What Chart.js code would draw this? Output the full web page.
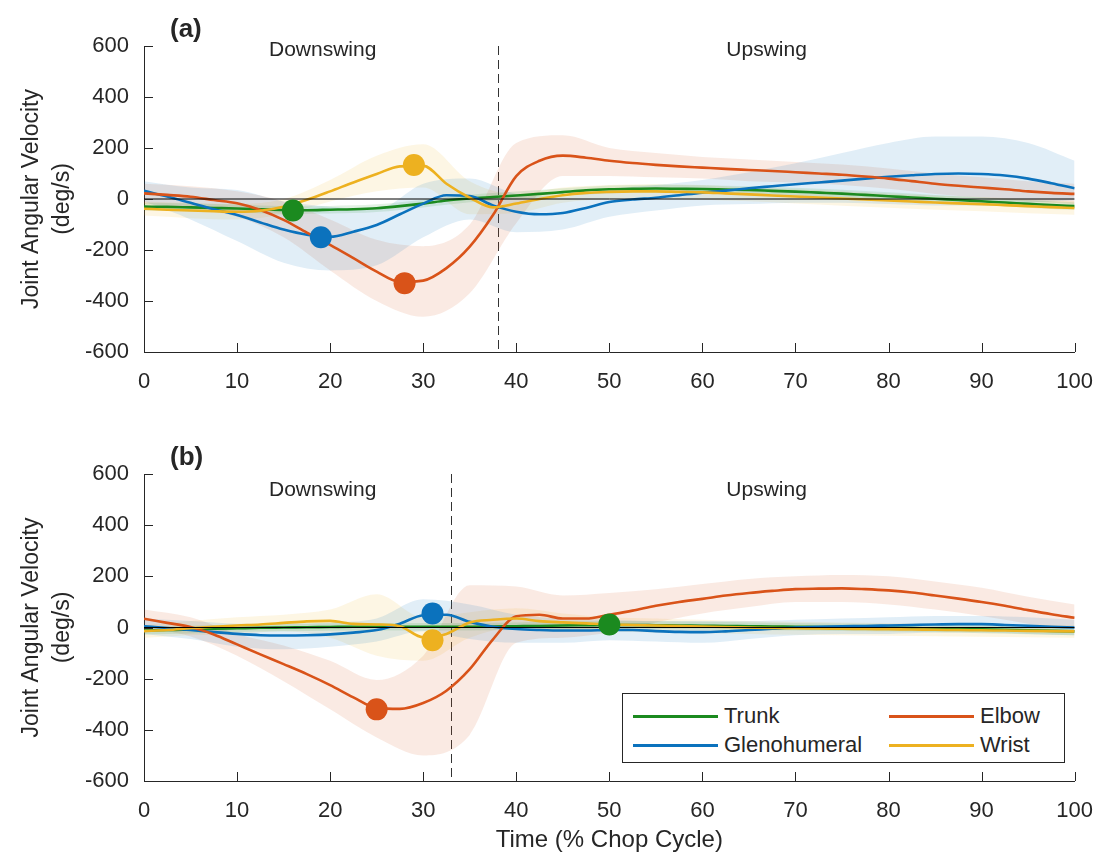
<!DOCTYPE html>
<html>
<head>
<meta charset="utf-8">
<script src="https://cdn.jsdelivr.net/npm/chart.js@4.4.1/dist/chart.umd.min.js"></script>
<style>
  html, body { margin: 0; padding: 0; background: #fff; }
  #wrap { position: relative; width: 1102px; height: 860px; font-family: "Liberation Sans", Arial, sans-serif; color: #262626; }
  #chartA { position: absolute; left: 0; top: 0; }
  #chartB { position: absolute; left: 0; top: 410px; }
  #legend { position: absolute; left: 622px; top: 693px; width: 441px; height: 68px; border: 1px solid #262626; background: #fff; }
  .item { position: absolute; font-size: 22px; line-height: 26px; white-space: nowrap; }
  .swatch { position: absolute; width: 85px; height: 3px; }
</style>
</head>
<body>
<div id="wrap">
  <canvas id="chartA" width="1102" height="400"></canvas>
  <canvas id="chartB" width="1102" height="450"></canvas>
  <div id="legend"></div>
</div>
<script>
// tiempo (% del ciclo) para las medias y para las bandas
const tiempo = [0,2.5,5,7.5,10,12.5,15,17.5,20,22.5,25,27.5,30,32.5,35,37.5,40,42.5,45,47.5,50,52.5,55,57.5,60,62.5,65,67.5,70,72.5,75,77.5,80,82.5,85,87.5,90,92.5,95,97.5,100];
const tiempoBanda = [0,5,10,15,20,25,30,35,40,45,50,55,60,65,70,75,80,85,90,95,100];

const series = ['Trunk', 'Glenohumeral', 'Elbow', 'Wrist'];
const colores = ['#1b8a1f', '#0b72bd', '#d95319', '#edb120'];

// panel (a)
const trunkA = [-30,-31,-33,-35,-37,-40,-43,-44,-42,-40,-36,-28,-18,-6,2,8,14,20,27,34,38,40,41,40,39,37,35,32,29,25,21,16,11,6,1,-4,-9,-14,-19,-24,-28];
const glenoA = [32,10,-15,-40,-63,-92,-120,-140,-148,-128,-102,-60,-18,15,12,-25,-50,-60,-55,-35,-12,-2,5,15,25,33,42,50,58,65,72,80,87,93,98,100,98,92,80,62,42];
const elbowA = [22,16,9,-4,-17,-43,-82,-132,-180,-232,-285,-325,-320,-271,-187,-63,90,150,170,162,150,141,134,128,123,118,114,110,105,100,95,88,80,70,60,52,45,38,30,24,20];
const wristA = [-38,-42,-45,-48,-50,-46,-30,-3,30,65,98,128,130,60,5,-33,-18,0,15,24,28,30,30,28,26,22,18,14,10,6,2,-2,-6,-10,-14,-17,-20,-24,-28,-32,-35];

const trunkA_hi = [-15,-18,-22,-28,-27,-21,-3,17,29,42,53,56,54,50,44,36,26,16,6,-4,-13];
const trunkA_lo = [-45,-48,-52,-58,-57,-51,-33,-13,-1,12,23,26,24,20,14,6,-4,-14,-24,-34,-43];
const glenoA_hi = [70,45,35,-10,-30,-40,60,80,20,10,40,55,75,105,140,180,220,245,245,220,150];
const glenoA_lo = [-10,-80,-165,-250,-280,-260,-150,-80,-130,-120,-70,-45,-25,-20,-15,-15,-20,-25,-25,-15,-5];
const elbowA_hi = [60,50,30,-10,-80,-160,-185,-100,220,250,200,180,165,155,145,135,120,100,85,70,60];
const elbowA_lo = [-20,-35,-70,-150,-280,-400,-462,-370,-95,90,90,85,80,70,65,55,40,20,5,-10,-20];
const wristA_hi = [-10,-15,-20,0,75,170,215,70,20,45,55,58,55,45,38,30,22,14,8,0,-8];
const wristA_lo = [-65,-75,-80,-60,-10,30,45,-60,-55,-15,0,2,-3,-9,-18,-26,-34,-42,-48,-56,-62];

const picoTiempoA = [16, 19, 28, 29];
const picoValorA = [-45, -150, -330, 133];

// panel (b)
const trunkB = [-12,-10,-8,-5,-3,-1,0,1,2,3,3,3,3,3,3,4,5,6,8,9,10,10,9,8,7,6,5,4,3,2,1,0,-1,-2,-4,-5,-7,-9,-11,-13,-15];
const glenoB = [5,-2,-10,-18,-25,-30,-31,-30,-27,-20,-10,15,48,50,22,3,-6,-10,-12,-12,-10,-10,-14,-17,-18,-15,-10,-5,0,3,5,6,8,10,12,13,13,10,7,3,0];
const elbowB = [34,18,2,-27,-66,-105,-143,-182,-225,-273,-315,-318,-295,-247,-163,-46,44,50,35,35,50,66,85,100,112,125,135,143,150,152,153,150,145,137,125,113,100,85,68,52,38];
const wristB = [-14,-10,-3,3,8,12,18,24,26,14,12,5,-38,-25,20,30,35,25,20,16,12,10,8,6,4,2,0,-2,-3,-4,-5,-6,-7,-8,-9,-10,-11,-12,-13,-14,-15];

const trunkB_hi = [3,7,12,15,17,18,18,18,20,23,25,24,22,20,18,16,14,11,8,4,0];
const trunkB_lo = [-27,-23,-18,-15,-13,-12,-12,-12,-10,-7,-5,-6,-8,-10,-12,-14,-16,-19,-22,-26,-30];
const glenoB_hi = [35,25,15,15,20,35,110,90,50,35,30,25,25,25,30,35,40,45,45,40,30];
const glenoB_lo = [-25,-45,-75,-85,-75,-55,-15,-45,-60,-60,-50,-55,-60,-45,-30,-25,-25,-20,-20,-25,-30];
const elbowB_hi = [70,40,-25,-70,-130,-205,-110,165,160,125,135,150,170,190,200,205,200,180,155,120,90];
const elbowB_lo = [0,-35,-110,-210,-320,-430,-500,-420,-60,-40,-20,20,55,80,100,100,90,70,45,15,-10];
const wristB_hi = [10,25,40,50,70,130,40,60,75,55,40,35,30,25,22,20,18,16,14,12,10];
const wristB_lo = [-40,-30,-25,-15,-40,-110,-130,-40,0,-10,-15,-20,-22,-25,-28,-30,-32,-34,-36,-38,-40];

const picoTiempoB = [50, 31, 25, 31];
const picoValorB = [12, 55, -320, -50];

const yTicks = [-600, -400, -200, 0, 200, 400, 600];

Chart.defaults.font.family = '"Liberation Sans", Arial, sans-serif';
Chart.defaults.color = '#262626';

function rgba(hex, a) {
    const n = parseInt(hex.slice(1), 16);
    return `rgba(${n >> 16}, ${(n >> 8) & 255}, ${n & 255}, ${a})`;
}

function puntos(xs, ys) {
    return xs.map((x, i) => ({ x: x, y: ys[i] }));
}

// linea de fase, ticks hacia adentro y textos
const decorPlugin = {
    id: 'decor',
    beforeDatasetsDraw(chart, args, o) {
        const { ctx, chartArea: a, scales: { x } } = chart;
        ctx.save();
        ctx.lineWidth = 1;
        const xf = Math.round(x.getPixelForValue(o.fase)) + 0.5;
        ctx.strokeStyle = '#333';
        ctx.setLineDash([9, 5]);
        ctx.beginPath(); ctx.moveTo(xf, a.top); ctx.lineTo(xf, a.bottom); ctx.stroke();
        ctx.restore();
    },
    afterDraw(chart, args, o) {
        const { ctx, chartArea: a, scales: { x, y } } = chart;
        ctx.save();
        ctx.strokeStyle = '#262626';
        ctx.lineWidth = 1;
        y.ticks.forEach(t => {
            const py = Math.round(y.getPixelForValue(t.value)) + 0.5;
            ctx.beginPath(); ctx.moveTo(a.left, py); ctx.lineTo(a.left + 9, py); ctx.stroke();
        });
        x.ticks.forEach(t => {
            const px = Math.round(x.getPixelForValue(t.value)) + 0.5;
            ctx.beginPath(); ctx.moveTo(px, a.bottom); ctx.lineTo(px, a.bottom - 9); ctx.stroke();
        });
        ctx.fillStyle = '#262626';
        ctx.textBaseline = 'middle';
        ctx.textAlign = 'center';
        ctx.font = '21px "Liberation Sans", Arial, sans-serif';
        ctx.fillText('Downswing', x.getPixelForValue(19.2), y.getPixelForValue(o.textoY));
        ctx.fillText('Upswing', x.getPixelForValue(66.9), y.getPixelForValue(o.textoY));
        ctx.textAlign = 'left';
        ctx.font = 'bold 26px "Liberation Sans", Arial, sans-serif';
        ctx.fillText(o.panel, a.left + 26, a.top - 16);
        ctx.restore();
    }
};

function crearPanel(id, medias, altos, bajos, picoT, picoV, extra) {
    const datasets = [];
    series.forEach((nombre, i) => {
        datasets.push({
            label: nombre + ' lo',
            data: puntos(tiempoBanda, bajos[i]),
            borderWidth: 0, pointRadius: 0, fill: false,
            cubicInterpolationMode: 'monotone', order: 10
        });
        datasets.push({
            label: nombre + ' hi',
            data: puntos(tiempoBanda, altos[i]),
            borderWidth: 0, pointRadius: 0, fill: '-1',
            backgroundColor: rgba(colores[i], 0.12),
            cubicInterpolationMode: 'monotone', order: 10
        });
    });
    series.forEach((nombre, i) => {
        datasets.push({
            label: nombre,
            data: puntos(tiempo, medias[i]),
            borderColor: colores[i], borderWidth: 2.6, pointRadius: 0, fill: false,
            cubicInterpolationMode: 'monotone', order: 5 - i
        });
    });
    // linea de referencia en cero
    datasets.push({
        label: 'cero',
        data: [{ x: 0, y: 0 }, { x: 100, y: 0 }],
        borderColor: '#000', borderWidth: 1, pointRadius: 0, fill: false, order: 0.5
    });
    series.forEach((nombre, i) => {
        datasets.push({
            label: nombre + ' pico',
            data: [{ x: picoT[i], y: picoV[i] }],
            showLine: false, pointRadius: 11, pointBorderWidth: 0,
            pointBackgroundColor: colores[i], order: 0
        });
    });

    return new Chart(document.getElementById(id), {
        type: 'line',
        data: { datasets: datasets },
        options: {
            responsive: false,
            animation: false,
            layout: { padding: { top: extra.padTop, right: 21, left: 0, bottom: 0 } },
            plugins: {
                legend: { display: false },
                tooltip: { enabled: false },
                decor: { fase: extra.fase, textoY: extra.textoY, panel: extra.panel }
            },
            scales: {
                x: {
                    type: 'linear', min: 0, max: 100,
                    ticks: { stepSize: 10, font: { size: 22 }, padding: 9, maxRotation: 0, autoSkip: false },
                    grid: { display: false },
                    border: { display: true, color: '#262626', width: 1 },
                    title: { display: extra.tituloX, text: 'Time (% Chop Cycle)', font: { size: 24 }, padding: { top: 0, bottom: 5 } },
                    afterFit: s => { s.height = extra.altoX; }
                },
                y: {
                    min: -600, max: 600,
                    afterBuildTicks: s => { s.ticks = yTicks.map(v => ({ value: v })); },
                    ticks: { font: { size: 22 }, padding: 7 },
                    grid: { display: false },
                    border: { display: true, color: '#262626', width: 1 },
                    title: { display: true, text: ['Joint Angular Velocity', '(deg/s)'], font: { size: 23, lineHeight: 1.35 }, padding: { top: 16, bottom: 0 } },
                    afterFit: s => { s.width = 144; }
                }
            }
        },
        plugins: [decorPlugin]
    });
}

crearPanel('chartA',
    [trunkA, glenoA, elbowA, wristA],
    [trunkA_hi, glenoA_hi, elbowA_hi, wristA_hi],
    [trunkA_lo, glenoA_lo, elbowA_lo, wristA_lo],
    picoTiempoA, picoValorA,
    { padTop: 46, altoX: 48, fase: 38, textoY: 585, panel: '(a)', tituloX: false });

crearPanel('chartB',
    [trunkB, glenoB, elbowB, wristB],
    [trunkB_hi, glenoB_hi, elbowB_hi, wristB_hi],
    [trunkB_lo, glenoB_lo, elbowB_lo, wristB_lo],
    picoTiempoB, picoValorB,
    { padTop: 64, altoX: 79, fase: 33, textoY: 535, panel: '(b)', tituloX: true });

// leyenda en dos columnas (Trunk/Glenohumeral, Elbow/Wrist)
const leyenda = document.getElementById('legend');
series.forEach((nombre, i) => {
    const col = Math.floor(i / 2), fila = i % 2;
    const sw = document.createElement('div');
    sw.className = 'swatch';
    sw.style.background = colores[i];
    sw.style.left = (10 + col * 256) + 'px';
    sw.style.top = (21 + fila * 29) + 'px';
    const tx = document.createElement('div');
    tx.className = 'item';
    tx.textContent = nombre;
    tx.style.left = (101 + col * 256) + 'px';
    tx.style.top = (9 + fila * 29) + 'px';
    leyenda.appendChild(sw);
    leyenda.appendChild(tx);
});
</script>
</body>
</html>
